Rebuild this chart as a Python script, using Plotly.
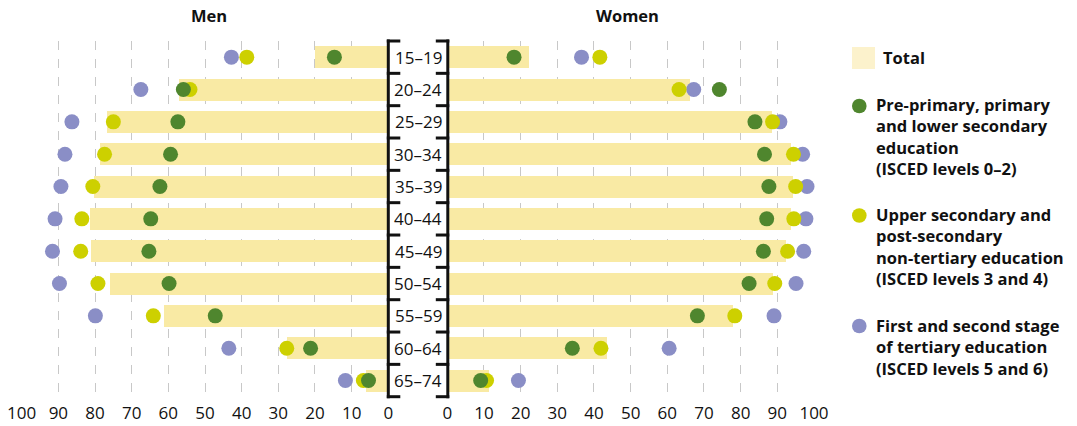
import plotly.graph_objects as go

# ---------------- data ----------------
age_groups = ["15–19", "20–24", "25–29", "30–34", "35–39", "40–44",
              "45–49", "50–54", "55–59", "60–64", "65–74"]

men_total = [20.0, 57.1, 76.7, 78.6, 80.2, 81.4, 81.1, 75.9, 61.2, 27.5, 6.1]
men_isced02 = [14.7, 55.9, 57.4, 59.4, 62.3, 64.8, 65.3, 59.8, 47.2, 21.2, 5.4]
men_isced34 = [38.6, 54.1, 75.0, 77.4, 80.6, 83.6, 83.9, 79.2, 64.1, 27.7, 6.8]
men_isced56 = [42.8, 67.5, 86.3, 88.2, 89.3, 90.9, 91.6, 89.7, 79.9, 43.5, 11.7]

women_total = [22.2, 66.2, 88.5, 93.7, 94.2, 93.6, 92.4, 88.7, 77.8, 43.6, 11.3]
women_isced02 = [18.2, 74.2, 83.9, 86.5, 87.7, 87.1, 86.2, 82.3, 68.2, 34.1, 9.1]
women_isced34 = [41.6, 63.2, 88.7, 94.4, 95.0, 94.5, 92.8, 89.3, 78.4, 41.9, 10.7]
women_isced56 = [36.6, 67.2, 90.7, 96.9, 98.1, 97.8, 97.2, 95.1, 89.1, 60.5, 19.4]

tick_vals = [0, 10, 20, 30, 40, 50, 60, 70, 80, 90, 100]
tick_text = [str(v) for v in tick_vals]

panel_titles = ["Men", "Women"]
legend_total = "Total"
legend_isced02 = ["Pre-primary, primary", "and lower secondary", "education", "(ISCED levels 0–2)"]
legend_isced34 = ["Upper secondary and", "post-secondary", "non-tertiary education", "(ISCED levels 3 and 4)"]
legend_isced56 = ["First and second stage", "of tertiary education", "(ISCED levels 5 and 6)"]

# ---------------- styles ----------------
OFF = 0
W, H = 1077, 426
FONT = "Open Sans"
TXT = "#111111"
BAR_C = "#f9eaa4"
SWATCH_C = "#fcf2cc"
GREEN = "#4f862e"
YELLOW = "#cdd000"
BLUE = "#8a8ec6"
MSIZE = 15

def px_x(px):
    return (px - OFF) / W

def px_y(px):
    return 1 - (px - OFF) / H

def dx(px):
    return px / W

left_dom = [px_x(21.7), px_x(388.3)]
right_dom = [px_x(447.3), px_x(814.0)]
y_top_px, y_bot_px = 41.0, 396.7
y_dom = [px_y(y_bot_px), px_y(y_top_px)]

n = len(age_groups)
idx = list(range(n))

fig = go.Figure()

# bars
fig.add_trace(go.Bar(x=men_total, y=idx, orientation="h", width=0.68,
                     marker=dict(color=BAR_C, line=dict(width=0)),
                     xaxis="x", yaxis="y", showlegend=False, hoverinfo="x"))
fig.add_trace(go.Bar(x=women_total, y=idx, orientation="h", width=0.68,
                     marker=dict(color=BAR_C, line=dict(width=0)),
                     xaxis="x2", yaxis="y", showlegend=False, hoverinfo="x"))

# dots (draw order: tertiary, upper secondary, lower)
for vals, col, ax in [(men_isced56, BLUE, "x"), (men_isced34, YELLOW, "x"), (men_isced02, GREEN, "x"),
                      (women_isced56, BLUE, "x2"), (women_isced34, YELLOW, "x2"), (women_isced02, GREEN, "x2")]:
    fig.add_trace(go.Scatter(x=vals, y=idx, mode="markers",
                             marker=dict(size=MSIZE, color=col, line=dict(width=0)),
                             xaxis=ax, yaxis="y", showlegend=False, cliponaxis=False,
                             hoverinfo="x"))

axis_common = dict(
    tickmode="array", tickvals=tick_vals, ticktext=tick_text,
    showgrid=True, gridcolor="#c8c8c8", griddash="dash", gridwidth=1,
    zeroline=False, showline=False, ticks="", fixedrange=True,
    ticklabelstandoff=4, ticklabeloverflow="allow",
    tickfont=dict(family=FONT, size=17, color=TXT), automargin=False,
)

fig.update_layout(
    width=W, height=H,
    margin=dict(l=0, r=0, t=0, b=0),
    paper_bgcolor="white", plot_bgcolor="white",
    bargap=0, barmode="overlay",
    xaxis=dict(domain=left_dom, range=[100, 0], anchor="y", **axis_common),
    xaxis2=dict(domain=right_dom, range=[0, 100], anchor="y", **axis_common),
    yaxis=dict(domain=y_dom, range=[n - 0.5, -0.5], showgrid=False, zeroline=False,
               showticklabels=False, showline=False, ticks="", fixedrange=True, automargin=False),
    showlegend=False,
)

shapes = []
annotations = []

# center bracket box
LINE = dict(color=TXT, width=3)
xl, xr = px_x(388.3), px_x(447.8)
stub = 12.0
shapes.append(dict(type="line", xref="paper", yref="paper", x0=xl, x1=xl,
                   y0=px_y(y_top_px - 1.5), y1=px_y(y_bot_px + 1.5), line=LINE))
shapes.append(dict(type="line", xref="paper", yref="paper", x0=xr, x1=xr,
                   y0=px_y(y_top_px - 1.5), y1=px_y(y_bot_px + 1.5), line=LINE))
row_h = (y_bot_px - y_top_px) / n
for i in range(n + 1):
    yy = px_y(y_top_px + i * row_h)
    shapes.append(dict(type="line", xref="paper", yref="paper", x0=xl - dx(1.5), x1=xl + dx(stub),
                       y0=yy, y1=yy, line=LINE))
    shapes.append(dict(type="line", xref="paper", yref="paper", x0=xr - dx(stub), x1=xr + dx(1.5),
                       y0=yy, y1=yy, line=LINE))

for i, lab in enumerate(age_groups):
    annotations.append(dict(text=lab, xref="paper", yref="y", x=px_x(418), y=i,
                            showarrow=False, xanchor="center", yanchor="middle",
                            font=dict(family=FONT, size=17, color=TXT)))

# panel titles
for t, xc in zip(panel_titles, [209, 627]):
    annotations.append(dict(text=f"<b>{t}</b>", xref="paper", yref="paper", x=px_x(xc), y=px_y(16),
                            showarrow=False, xanchor="center", yanchor="middle",
                            font=dict(family=FONT, size=16.5, color=TXT)))

# legend
LEG_FONT = dict(family=FONT, size=16.5, color=TXT)
shapes.append(dict(type="rect", xref="paper", yref="paper", x0=px_x(852), x1=px_x(875),
                   y0=px_y(69), y1=px_y(47), fillcolor=SWATCH_C, line=dict(width=0)))
annotations.append(dict(text=f"<b>{legend_total}</b>", xref="paper", yref="paper",
                        x=px_x(881), y=px_y(57), showarrow=False, xanchor="left",
                        yanchor="middle", font=LEG_FONT))

r = 7.3
LINE_GAP = 20.6
for lines, col, y0 in [(legend_isced02, GREEN, 106), (legend_isced34, YELLOW, 215.5),
                       (legend_isced56, BLUE, 326)]:
    shapes.append(dict(type="circle", xref="paper", yref="paper",
                       x0=px_x(859.3 - r), x1=px_x(859.3 + r),
                       y0=px_y(y0 + r), y1=px_y(y0 - r), fillcolor=col, line=dict(width=0)))
    yc = y0 + (len(lines) - 1) / 2 * LINE_GAP
    annotations.append(dict(text="<br>".join(f"<b>{ln}</b>" for ln in lines),
                            xref="paper", yref="paper", x=px_x(874), y=px_y(yc),
                            showarrow=False, xanchor="left", yanchor="middle", align="left",
                            font=LEG_FONT))

fig.update_layout(shapes=shapes, annotations=annotations)

fig.write_html("out.html", config={"displayModeBar": False, "staticPlot": True},
               post_script="document.body.style.margin='0';")
